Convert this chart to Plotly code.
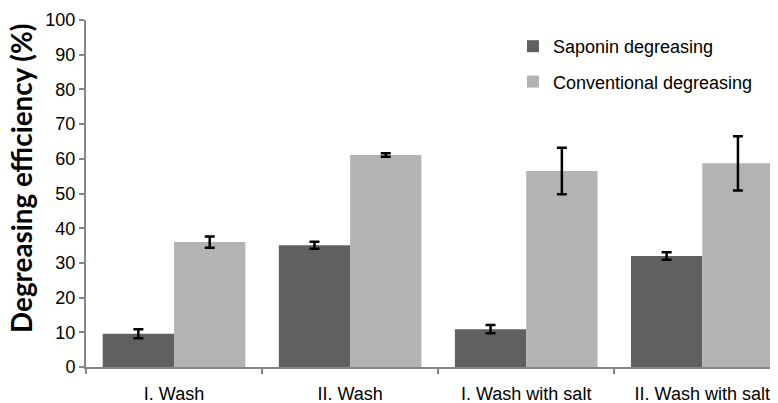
import plotly.graph_objects as go

categories = ["I. Wash", "II. Wash", "I. Wash with salt", "II. Wash with salt"]
saponin = [9.6, 35.1, 10.9, 32.0]
saponin_err = [1.3, 1.0, 1.2, 1.1]
conventional = [36.0, 61.1, 56.5, 58.7]
conventional_err = [1.6, 0.5, 6.7, 7.8]

fig = go.Figure()
fig.add_trace(go.Bar(
    x=categories, y=saponin, name="Saponin degreasing",
    marker=dict(color="#606060", line=dict(width=0)),
    error_y=dict(type="data", array=saponin_err, color="black", thickness=2.5, width=5),
    legendgroup="a",
))
fig.add_trace(go.Bar(
    x=categories, y=conventional, name="Conventional degreasing",
    marker=dict(color="#b3b3b3", line=dict(width=0)),
    error_y=dict(type="data", array=conventional_err, color="black", thickness=2.5, width=5),
    legendgroup="b",
))

# The page body adds an 8px offset; margins compensate for it.
fig.update_layout(
    width=778, height=403,
    margin=dict(l=78, r=8, t=12, b=44),
    paper_bgcolor="white", plot_bgcolor="white",
    barmode="group", bargap=0.19, bargroupgap=0,
    font=dict(family="Liberation Sans, Arial", size=18, color="black"),
    legend=dict(
        x=0.617, y=0.977, xanchor="left", yanchor="top",
        font=dict(size=18, color="black"),
        tracegroupgap=9, bgcolor="rgba(0,0,0,0)",
        itemwidth=30,
    ),
    showlegend=True,
    annotations=[dict(
        text="<b>Degreasing efficiency (%)</b>", textangle=-90,
        xref="paper", yref="paper", x=-0.0925, y=0.545,
        xanchor="center", yanchor="middle", showarrow=False,
        font=dict(family="Lato, Open Sans", size=27.8, color="black"),
    )],
)
fig.update_xaxes(
    range=[-0.5, 3.43], showline=True, linecolor="#868686", linewidth=2,
    ticks="outside", tickson="boundaries", ticklen=5, tickcolor="#868686", tickwidth=2,
    showgrid=False, zeroline=False, tickfont=dict(size=18), automargin=False,
    ticklabelstandoff=9,
)
fig.update_yaxes(
    range=[0, 100], dtick=10, showline=True, linecolor="#868686", linewidth=2,
    ticks="outside", ticklen=5, tickcolor="#868686", tickwidth=2,
    showgrid=False, zeroline=False, tickfont=dict(size=18), automargin=False,
)

fig.write_html("out.html")
